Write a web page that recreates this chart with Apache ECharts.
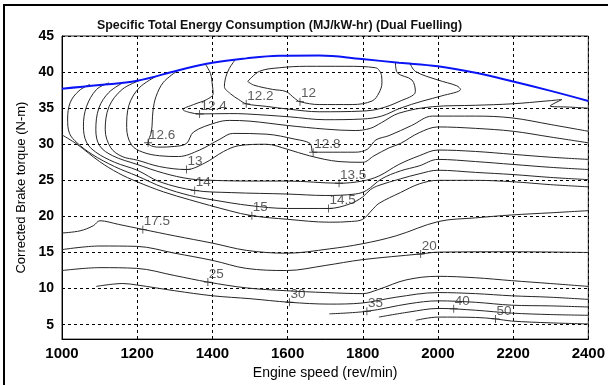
<!DOCTYPE html>
<html><head><meta charset="utf-8">
<script src="https://cdn.jsdelivr.net/npm/echarts@6/dist/echarts.min.js"></script>
<style>html,body{margin:0;padding:0;background:#fff}#c{width:608px;height:385px}</style>
</head><body><div id="c"></div>
<script>
// ---- data (engine speed rev/min, torque N-m) ----
const xTicks = [1000,1200,1400,1600,1800,2000,2200,2400];
const yTicks = [5,10,15,20,25,30,35,40,45];
const maxTorque = [[1000,37.7],[1100,38.2],[1200,38.8],[1313,40.3],[1400,41.3],[1490,41.9],[1578,42.25],[1684,42.3],[1798,41.8],[1896,41.3],[2000,40.8],[2100,39.9],[2200,38.7],[2300,37.4],[2400,36.0]];
const c12 = [[1494,38.7],[1525,40.1],[1578,40.6],[1650,40.8],[1755,40.8],[1834,40.6],[1850,39.5],[1851,38.5],[1843,37.1],[1825,36.0],[1772,35.5],[1684,35.5],[1633,35.9],[1618,36.4],[1596,37.3],[1560,37.6],[1510,38.2],[1494,38.7]];
const c12_2 = [[1462,41.8],[1445,40.5],[1435,39.2],[1432,38.0],[1448,37.0],[1470,36.2],[1490,35.6],[1543,35.25],[1605,34.85],[1684,34.5],[1800,34.6],[1843,34.9],[1896,35.9],[1940,37.3],[1931,38.9],[1892,39.9],[1887,41.3]];
const c12_4 = [[1380,41.2],[1395,39.8],[1400,38.2],[1402,37.0],[1385,36.2],[1350,35.5],[1322,34.8],[1340,34.4],[1366,34.2],[1445,34.25],[1490,34.2],[1605,33.8],[1700,33.4],[1800,33.5],[1850,33.9],[1900,35.0],[1960,36.0],[2010,36.7],[2060,37.6],[2050,38.1],[2000,38.9],[1940,40.1],[1925,41.3]];
const c12_6 = [[1305,40.1],[1270,38.6],[1250,36.6],[1242,34.6],[1238,31.8],[1229,30.2],[1255,29.6],[1300,29.7],[1331,30.1],[1350,31.7],[1410,33.0],[1445,33.3],[1500,33.2],[1600,32.6],[1700,32.1],[1780,31.9],[1820,32.2],[1850,33.0],[1896,34.3],[1985,35.2],[2100,35.4],[2197,35.6],[2290,36.0],[2330,36.2],[2298,35.3],[2350,35.15],[2400,35.0]];
const c12_8 = [[1250,39.4],[1205,37.8],[1178,35.4],[1172,32.3],[1185,29.9],[1215,28.9],[1260,28.4],[1310,28.3],[1366,29.2],[1420,30.7],[1454,31.5],[1543,31.4],[1620,30.7],[1660,30.1],[1668,28.9],[1700,28.9],[1780,28.9],[1812,29.3],[1835,30.6],[1870,31.2],[1930,32.6],[1985,33.9],[2100,33.9],[2197,33.65],[2303,32.7],[2400,31.8]];
const c13 = [[1205,38.8],[1160,37.6],[1125,35.2],[1115,32.0],[1130,29.5],[1160,28.3],[1200,27.8],[1260,26.9],[1331,26.5],[1380,27.4],[1430,29.0],[1470,29.8],[1543,30.0],[1600,29.3],[1658,28.4],[1737,27.6],[1800,27.5],[1830,28.4],[1870,29.5],[1900,30.1],[1950,31.6],[2000,32.4],[2100,32.2],[2200,31.8],[2300,31.0],[2400,30.2]];
const c13_5 = [[1165,38.6],[1125,37.2],[1098,35.0],[1090,32.0],[1100,29.8],[1135,28.4],[1200,27.2],[1270,26.0],[1340,25.2],[1400,25.0],[1500,24.9],[1600,24.9],[1737,24.6],[1799,24.9],[1843,25.6],[1896,27.2],[1950,28.4],[2000,29.2],[2100,29.0],[2200,28.6],[2300,28.2],[2400,27.9]];
const c14 = [[1125,38.5],[1092,37.6],[1065,35.2],[1057,32.5],[1065,30.3],[1090,28.9],[1140,27.5],[1200,26.4],[1260,24.8],[1353,23.6],[1450,23.3],[1600,23.1],[1700,22.9],[1780,23.1],[1810,23.6],[1850,25.2],[1900,26.3],[1950,27.0],[2000,27.9],[2100,27.6],[2200,27.2],[2300,26.8],[2400,26.5]];
const c14_5 = [[1074,38.3],[1045,37.4],[1022,35.8],[1015,33.5],[1020,31.5],[1040,30.2],[1080,28.6],[1140,26.9],[1200,25.6],[1270,24.0],[1340,22.9],[1400,22.3],[1500,21.5],[1600,21.1],[1709,21.1],[1764,21.7],[1800,22.7],[1820,23.7],[1843,24.3],[1900,25.2],[1950,25.9],[2000,26.4],[2100,26.1],[2200,25.8],[2300,25.4],[2400,25.1]];
const c15 = [[1000,31.3],[1040,30.0],[1100,27.6],[1150,26.0],[1200,24.8],[1270,23.4],[1340,22.3],[1445,20.8],[1505,20.1],[1600,19.6],[1711,19.2],[1770,19.3],[1800,19.6],[1825,20.9],[1843,21.8],[1900,23.3],[1950,24.5],[2000,25.0],[2100,25.0],[2200,24.8],[2300,24.4],[2400,24.1]];
const c17_5 = [[1000,17.7],[1048,18.0],[1083,18.7],[1101,19.4],[1150,18.9],[1215,18.2],[1300,17.3],[1400,16.3],[1490,15.3],[1597,14.9],[1711,15.5],[1798,16.2],[1888,17.3],[2002,19.3],[2100,19.8],[2196,20.2],[2300,20.5],[2400,20.8]];
const c20 = [[1000,15.4],[1101,15.9],[1199,15.85],[1300,14.9],[1401,13.9],[1490,12.8],[1597,12.5],[1700,13.2],[1798,14.0],[1954,14.8],[2002,15.05],[2200,15.1],[2400,15.0]];
const c25 = [[1000,12.5],[1101,12.9],[1199,12.8],[1300,11.8],[1388,10.9],[1490,10.1],[1597,9.7],[1700,9.45],[1800,9.3],[1843,9.9],[1915,11.2],[2000,11.7],[2100,11.5],[2196,11.1],[2300,10.7],[2400,10.3]];
const c30 = [[1091,10.3],[1162,10.7],[1199,10.5],[1300,9.7],[1401,9.0],[1500,8.6],[1605,8.1],[1711,7.85],[1798,8.0],[1888,8.8],[2000,9.45],[2100,9.3],[2196,9.0],[2300,8.8],[2400,8.5]];
const c35 = [[1711,6.5],[1811,6.85],[1923,7.9],[2000,8.3],[2100,8.1],[2196,7.7],[2300,7.6],[2400,7.45]];
const c40 = [[1843,6.05],[1923,6.75],[2002,7.25],[2100,7.0],[2196,6.6],[2300,6.4],[2400,6.3]];
const c50 = [[1941,5.6],[2000,6.05],[2100,6.0],[2153,5.8],[2196,5.5],[2300,5.25],[2400,5.1]];
const labelText = ['12','12.2','12.4','12.6','12.8','13','13.5','14','14.5','15','17.5','20','25','30','35','40','50'];
const labelX = [1633,1490,1366,1229,1668,1331,1737,1353,1709,1505,1215,1954,1388,1605,1811,2042,2153];
const labelY = [35.9,35.6,34.2,30.2,28.9,26.5,24.6,23.6,21.1,20.1,18.2,14.8,10.9,8.1,6.85,7.2,5.8];

const contours = [c12,c12_2,c12_4,c12_6,c12_8,c13,c13_5,c14,c14_5,c15,c17_5,c20,c25,c30,c35,c40,c50];
const FONT = 'Liberation Sans, Arial, sans-serif';

const chart = echarts.init(document.getElementById('c'), null, {renderer:'canvas'});
const series = contours.map(d => ({
  type:'line', data:d, showSymbol:false, smooth:0.35, silent:true,
  lineStyle:{color:'#262626', width:1}, z:3
}));
series.push({type:'line', data:maxTorque, showSymbol:false, smooth:0.4, silent:true,
  lineStyle:{color:'#0a14f5', width:2}, z:4});
series.push({type:'scatter', silent:true, z:5,
  data: labelText.map((t,i)=>({value:[labelX[i],labelY[i]], name:t})),
  symbol:'path://M4,0h1v4h4v1h-4v4h-1v-4h-4v-1h4z', symbolSize:8,
  itemStyle:{color:'#222'},
  label:{show:true, position:'right', distance:0, offset:[-3,-8], formatter:p=>p.name,
    fontFamily:FONT, fontSize:13.5, color:'#333'}
});

chart.setOption({
  animation:false,
  backgroundColor:'#fff',
  title:{text:'Specific Total Energy Consumption (MJ/kW-hr) (Dual Fuelling)', left:92, top:15,
    textStyle:{fontFamily:FONT, fontSize:12.4, fontWeight:'bold', color:'#111'}},
  grid:{left:62, right:18, top:36, bottom:44, show:true, borderColor:'#222', borderWidth:1},
  xAxis:{type:'value', min:1000, max:2400, interval:200,
    axisLine:{show:true, lineStyle:{color:'#000'}}, axisTick:{show:false},
    axisLabel:{fontFamily:FONT, fontSize:15, fontWeight:'bold', color:'#000', margin:7,
      formatter:v=> xTicks.includes(v)? String(v):''},
    splitLine:{show:true, lineStyle:{color:'#000', type:[3,3], width:1}},
    name:'Engine speed (rev/min)', nameLocation:'middle', nameGap:14,
    nameTextStyle:{fontFamily:FONT, fontSize:14, color:'#000'}},
  yAxis:{type:'value', min:3, max:45,
    axisLine:{show:true, lineStyle:{color:'#000'}},
    axisTick:{show:false, customValues:yTicks},
    axisLabel:{customValues:yTicks, fontFamily:FONT, fontSize:14, fontWeight:'bold', color:'#000', margin:8},
    splitLine:{show:true, lineStyle:{color:'#000', type:[3,3], width:1}},
    name:'Corrected Brake torque (N-m)', nameLocation:'middle', nameGap:31, nameRotate:90,
    nameTextStyle:{fontFamily:FONT, fontSize:13, color:'#000'}},
  graphic:[
    {type:'rect', shape:{x:3, y:4, width:2, height:381}, style:{fill:'#000'}},
    {type:'rect', shape:{x:3, y:4, width:605, height:2}, style:{fill:'#000'}}
  ],
  series:series
});
</script>
</body></html>
